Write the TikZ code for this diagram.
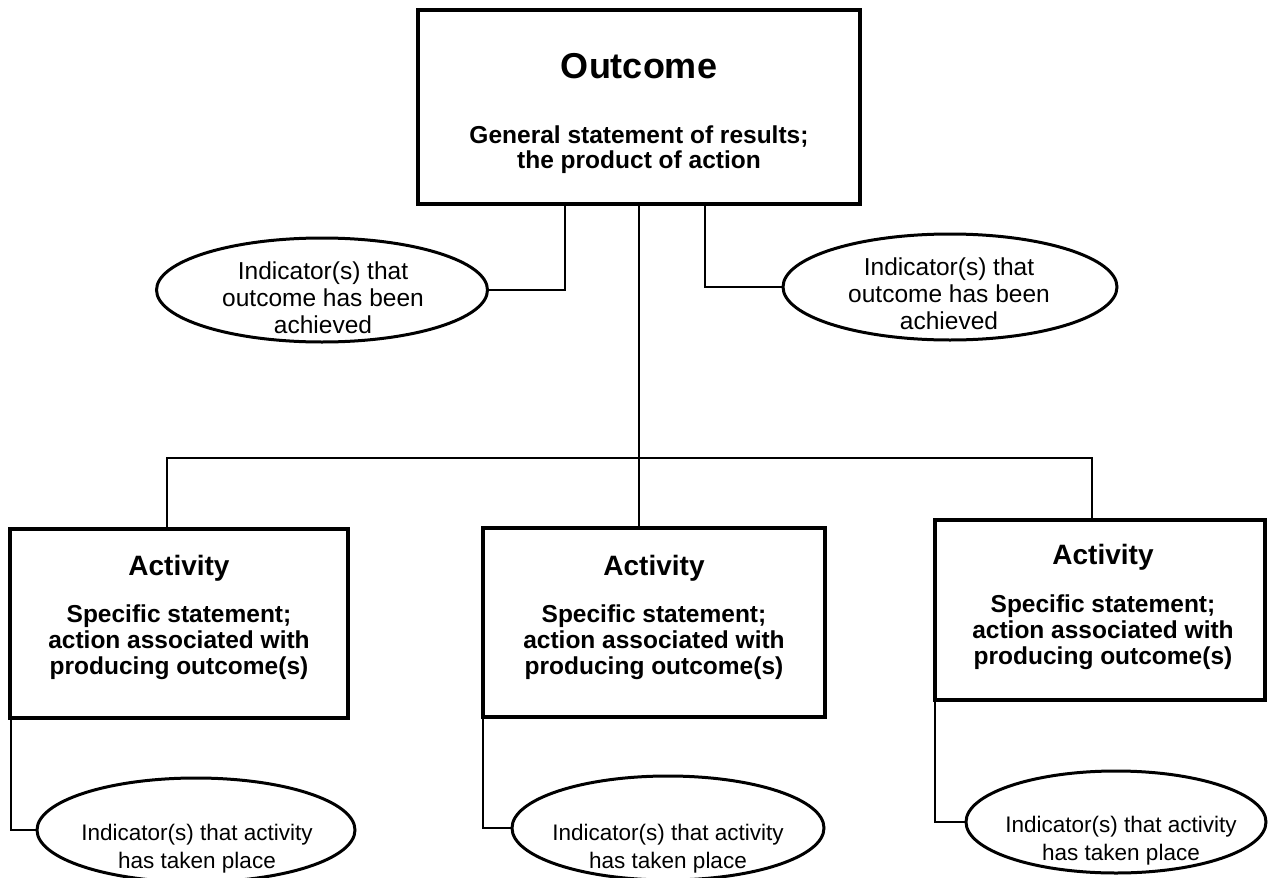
\documentclass[tikz,border=0pt]{standalone}
\usepackage{fontspec}
\setmainfont{Liberation Sans}
\usetikzlibrary{shapes.geometric}
\begin{document}
\begin{tikzpicture}[x=1pt,y=-1pt,
  box/.style={draw, line width=3.4pt, rectangle, inner sep=0pt},
  oval/.style={draw, line width=3pt, ellipse, inner sep=0pt},
  conn/.style={line width=1.7pt},
  bigttl/.style={anchor=base, inner sep=0pt, font=\bfseries\fontsize{36}{40}\selectfont},
  ttl/.style={anchor=base, inner sep=0pt, font=\bfseries\fontsize{28}{30}\selectfont},
  btxt/.style={anchor=base, inner sep=0pt, font=\bfseries\fontsize{24.5}{26}\selectfont},
  etxt/.style={anchor=base, inner sep=0pt, font=\fontsize{24.5}{28}\selectfont},
  ltxt/.style={anchor=base, inner sep=0pt, font=\fontsize{22.5}{28}\selectfont}]
\useasboundingbox (0,0) rectangle (1270,878);
\fill[white] (0,0) rectangle (1270,878);

% Outcome box
\node[box, minimum width=442pt, minimum height=194pt] (outcome) at (639,107) {};
\node[bigttl] (otitle) at (639,78) {Outcome};
\node[btxt] (od1) at (639,143) {General statement of results;};
\node[btxt] (od2) at (639,168) {the product of action};

% Outcome indicators
\node[oval, minimum width=331pt, minimum height=104pt] (lind) at (322,290) {};
\node[etxt] (li1) at (323,279) {Indicator(s) that};
\node[etxt] (li2) at (323,306) {outcome has been};
\node[etxt] (li3) at (323,333) {achieved};

\node[oval, minimum width=334pt, minimum height=106pt] (rind) at (950,287) {};
\node[etxt] (ri1) at (949,275) {Indicator(s) that};
\node[etxt] (ri2) at (949,302) {outcome has been};
\node[etxt] (ri3) at (949,329) {achieved};

% Activity boxes
\node[box, minimum width=338pt, minimum height=189pt] (act1) at (179,623.5) {};
\node[ttl] (a1t) at (179,575) {Activity};
\node[btxt] (a1d1) at (179,622) {Specific statement;};
\node[btxt] (a1d2) at (179,648) {action associated with};
\node[btxt] (a1d3) at (179,674) {producing outcome(s)};

\node[box, minimum width=342pt, minimum height=189pt] (act2) at (654,622.5) {};
\node[ttl] (a2t) at (654,575) {Activity};
\node[btxt] (a2d1) at (654,622) {Specific statement;};
\node[btxt] (a2d2) at (654,648) {action associated with};
\node[btxt] (a2d3) at (654,674) {producing outcome(s)};

\node[box, minimum width=330pt, minimum height=180pt] (act3) at (1100,610) {};
\node[ttl] (a3t) at (1103,564) {Activity};
\node[btxt] (a3d1) at (1103,612) {Specific statement;};
\node[btxt] (a3d2) at (1103,638) {action associated with};
\node[btxt] (a3d3) at (1103,664) {producing outcome(s)};

% Activity indicators
\node[oval, minimum width=318pt, minimum height=104pt] (ind1) at (196,830) {};
\node[ltxt] (i1a) at (197,840) {Indicator(s) that activity};
\node[ltxt] (i1b) at (197,868) {has taken place};

\node[oval, minimum width=312pt, minimum height=104pt] (ind2) at (668,828) {};
\node[ltxt] (i2a) at (668,840) {Indicator(s) that activity};
\node[ltxt] (i2b) at (668,868) {has taken place};

\node[oval, minimum width=300pt, minimum height=102pt] (ind3) at (1116,822) {};
\node[ltxt] (i3a) at (1121,832) {Indicator(s) that activity};
\node[ltxt] (i3b) at (1121,860) {has taken place};

% Connectors
\coordinate (bus) at (639,458);
\draw[conn] ([xshift=-74pt]outcome.south) |- (lind.east);
\draw[conn] ([xshift=66pt]outcome.south) |- (rind.west);
\draw[conn] (outcome.south) -- (bus);
\draw[conn] ([xshift=-12pt]act1.north) |- (bus) -| ([xshift=-8pt]act3.north);
\draw[conn] (bus) -- (outcome.south |- act2.north);
\draw[conn] ([xshift=3pt]act1.south west) |- (ind1.west);
\draw[conn] ([xshift=2pt]act2.south west) |- (ind2.west);
\draw[conn] ([xshift=2pt]act3.south west) |- (ind3.west);
\end{tikzpicture}
\end{document}
